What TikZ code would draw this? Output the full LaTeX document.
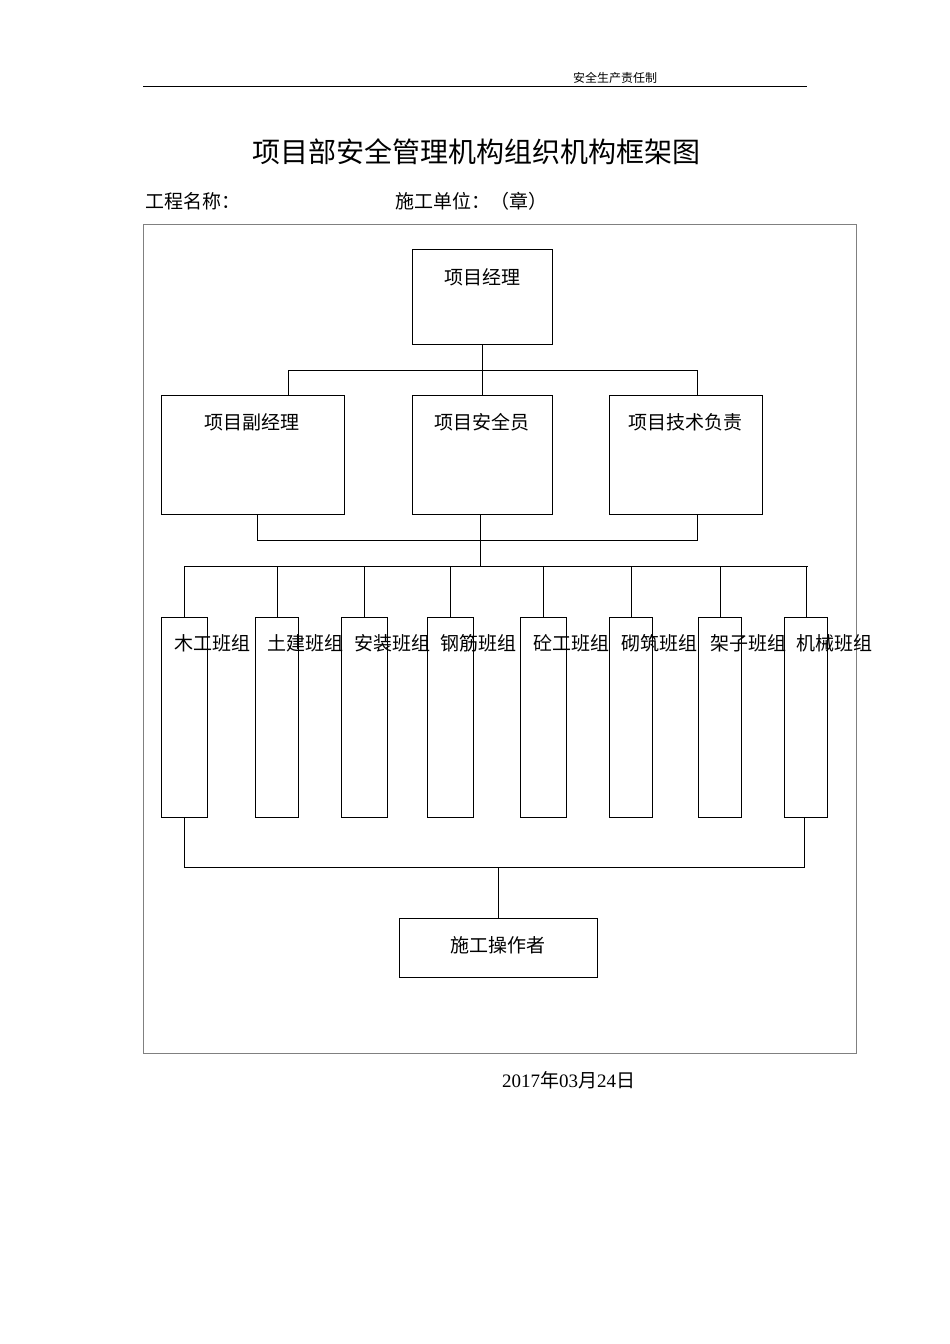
\documentclass[tikz,border=0pt]{standalone}
\usepackage{fontspec}
\setmainfont{Liberation Serif}
\newfontfamily\cjk{Noto Sans CJK SC}
\begin{document}
\begin{tikzpicture}[x=1pt,y=-1pt,
  bx/.style={draw,line width=0.8pt},
  ln/.style={line width=0.8pt},
  t/.style={font=\cjk\fontsize{19}{19}\selectfont,inner sep=0pt}]
\useasboundingbox (0,0) rectangle (950,1344);
\node[font=\cjk\fontsize{12}{12}\selectfont] (hd) at (615,78) {安全生产责任制};
\draw[ln] (143,86) -- (807,86);
\node[font=\cjk\fontsize{28}{28}\selectfont] (title) at (476,152) {项目部安全管理机构组织机构框架图};
\node[t,anchor=west] (gc) at (145,201) {工程名称：};
\node[t,anchor=west] (sg) at (395,201) {施工单位：（章）};
\draw[gray,line width=0.8pt] (143,224) rectangle (856,1053);
\draw[bx] (412,249) rectangle (552,344);
\node[t] (pm) at (482,277) {项目经理};
\draw[bx] (161,395) rectangle (344,514);
\draw[bx] (412,395) rectangle (552,514);
\draw[bx] (609,395) rectangle (762,514);
\node[t] (d1) at (252,422) {项目副经理};
\node[t] (d2) at (482,422) {项目安全员};
\node[t] (d3) at (685,422) {项目技术负责};
\draw[ln] (482,344) -- (482,395);
\draw[ln] (288,395) -- (288,370) -- (697,370) -- (697,395);
\draw[ln] (257,514) -- (257,540) -- (697,540) -- (697,514);
\draw[ln] (480,514) -- (480,566);
\draw[ln] (184,566) -- (808,566);
\foreach \a/\b/\c/\w in {161/207/184/木工班组,255/298/277/土建班组,341/387/364/安装班组,427/473/450/钢筋班组,520/566/543/砼工班组,609/652/631/砌筑班组,698/741/720/架子班组,784/827/806/机械班组}{
  \draw[bx] (\a,617) rectangle (\b,817);
  \draw[ln] (\c,566) -- (\c,617);
  \node[t,text width=20pt,align=center,font=\cjk\fontsize{19}{50}\selectfont,anchor=north] at (\c,634) {\w};
}
\draw[ln] (184,817) -- (184,867) -- (804,867) -- (804,817);
\draw[ln] (498,867) -- (498,918);
\draw[bx] (399,918) rectangle (597,977);
\node[t] (op) at (498,945) {施工操作者};
\node[font=\fontsize{19}{19}\selectfont,anchor=west,inner sep=0pt] (date) at (502,1080) {2017{\cjk 年}03{\cjk 月}24{\cjk 日}};
\end{tikzpicture}
\end{document}
